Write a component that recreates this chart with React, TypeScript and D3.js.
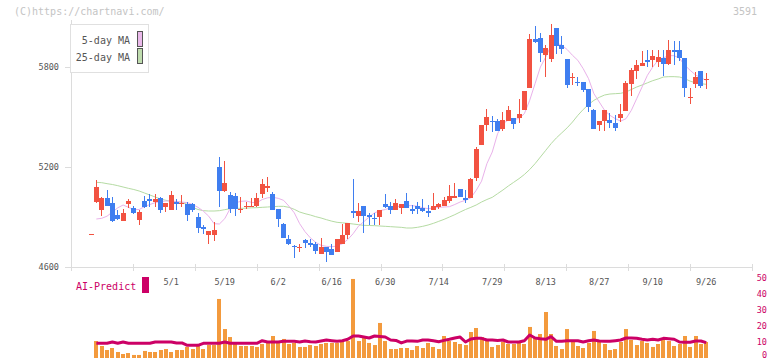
import React from "react";
import * as d3 from "d3";

// ---------- data ----------
const openP = [4800,4992,4944,5016,4984,4912,4878,4978,4952,4884,4996,5008,4990,5012,4962,4944,4990,4976,4976,4976,4900,4840,4794,4794,5200,5058,5032,5026,4940,4958,4962,4964,5040,5076,5038,4948,4860,4768,4728,4718,4762,4744,4738,4680,4718,4708,4692,4738,4792,4934,4908,4966,4914,4896,4902,4976,4968,4942,4952,4996,4946,4966,4956,4938,4942,4962,4968,4998,5012,5068,5012,5016,5134,5334,5450,5478,5474,5426,5478,5496,5496,5544,5676,5968,5974,5874,5850,6034,5934,5848,5734,5712,5708,5668,5542,5452,5476,5482,5464,5496,5538,5700,5778,5808,5842,5842,5828,5852,5816,5902,5902,5852,5614,5700,5776,5722];
const highP = [4800,5122,5020,5062,5018,4940,4946,5008,4966,4940,5028,5036,5038,5020,4986,5056,5010,5032,4988,4986,4922,4852,4816,4870,5260,5236,5048,5046,5022,4992,5012,5044,5126,5140,5052,4948,4864,4792,4732,4740,4768,4768,4748,4772,4718,4736,4768,4858,4862,5128,4982,4966,4922,4922,4940,5038,4992,5008,4976,5046,4972,4992,5008,4972,5046,4986,5018,5094,5106,5068,5062,5134,5322,5452,5548,5506,5490,5530,5564,5496,5608,5656,5998,6046,6002,5932,6058,6034,5986,5848,5762,5738,5708,5668,5548,5476,5542,5524,5512,5578,5718,5796,5842,5896,5900,5900,5902,5902,5962,5956,5956,5852,5672,5768,5776,5762];
const lowP = [4800,4985,4906,4968,4868,4882,4878,4956,4916,4852,4952,4962,4962,4926,4932,4944,4944,4962,4878,4932,4806,4796,4740,4758,4962,5052,4924,4904,4922,4948,4962,4960,5012,5052,4944,4842,4776,4732,4656,4692,4712,4720,4680,4680,4632,4672,4692,4738,4766,4892,4872,4806,4852,4852,4852,4952,4918,4942,4918,4952,4918,4918,4932,4898,4942,4946,4968,4982,5012,5022,4986,5016,5118,5334,5414,5412,5418,5418,5478,5426,5462,5544,5676,5942,5832,5742,5832,5880,5880,5674,5690,5686,5648,5532,5428,5418,5418,5436,5418,5472,5538,5628,5728,5808,5802,5802,5802,5748,5812,5812,5836,5622,5578,5672,5672,5668];
const closeP = [4800,5080,5016,4968,4876,4890,4924,4996,4926,4928,4960,4998,5008,4944,4982,5032,4980,4984,4914,4944,4836,4826,4816,4822,5058,5104,4950,4950,4948,4966,4966,5014,5098,5086,4944,4890,4776,4738,4718,4722,4744,4732,4698,4720,4688,4672,4768,4792,4862,4924,4936,4908,4898,4890,4940,4960,4944,4982,4976,4952,4936,4950,4938,4926,4966,4976,5002,5026,5026,5022,5002,5128,5310,5452,5500,5474,5418,5480,5540,5456,5518,5656,5968,5952,5882,5912,5992,5928,5910,5694,5738,5708,5662,5558,5428,5476,5542,5466,5436,5518,5704,5780,5812,5824,5832,5866,5858,5816,5902,5892,5852,5672,5618,5740,5686,5726];

// moving averages (start at index 1)
const ma5 = [NaN,4888,4892,4905,4930,4955,4972,4958,4945,4945,4962,4975,4986,4992,4996,4996,4993,4990,4986,4975,4958,4935,4905,4860,4858,4890,4950,4985,4994,4996,4988,4985,5005,5015,5018,5012,5000,4965,4925,4860,4812,4775,4748,4730,4724,4722,4725,4740,4765,4800,4845,4872,4900,4925,4938,4945,4955,4962,4966,4968,4968,4965,4955,4950,4954,4958,4960,4962,4975,4990,5000,5015,5060,5115,5220,5290,5400,5460,5482,5486,5490,5520,5600,5700,5800,5860,5930,5945,5930,5905,5870,5840,5790,5730,5640,5590,5540,5510,5490,5475,5490,5540,5610,5680,5750,5800,5840,5855,5868,5868,5852,5810,5780,5752,5735,5720];
const ma25 = [NaN,5108,5106,5100,5095,5088,5080,5072,5065,5056,5044,5032,5020,5008,5000,4994,4990,4988,4975,4958,4945,4938,4936,4936,4938,4944,4950,4952,4952,4953,4955,4956,4958,4960,4962,4964,4964,4958,4946,4930,4920,4912,4902,4894,4884,4875,4868,4865,4862,4858,4854,4850,4849,4848,4846,4844,4842,4840,4838,4834,4834,4838,4844,4852,4862,4874,4886,4900,4914,4930,4945,4958,4972,4990,5005,5018,5040,5062,5086,5108,5130,5155,5185,5220,5260,5300,5340,5375,5405,5435,5470,5510,5545,5575,5600,5618,5632,5638,5640,5642,5650,5665,5680,5692,5705,5718,5728,5740,5742,5742,5740,5730,5715,5705,5700,5696];

// lower panel
const volume = [0,10.6,7.5,5.0,6.25,3.75,2.5,3.1,1.9,1.9,4.4,3.75,3.75,5.0,5.6,3.75,5.0,5.0,6.9,5.6,7.5,5.6,8.1,8.1,36.9,18.1,13.1,8.75,7.5,7.5,7.5,6.9,8.75,9.4,13.75,9.4,11.9,8.75,9.4,6.9,6.9,8.1,7.5,8.75,9.4,9.4,9.4,10,10.6,49.4,10.6,12.5,9.4,8.1,21.9,10.6,5.6,5.6,6.25,6.25,5.0,7.5,6.25,9.4,6.9,5.6,13.75,10.6,10,8.75,8.1,16.25,18.75,13.1,11.9,6.9,8.1,10,8.75,8.75,10,8.75,19.4,12.5,15,28.75,15,7.5,5.6,18.1,10,7.5,6.25,9.4,16.9,10.6,8.75,5,5.6,10,18.1,11.25,8.1,10.6,9.4,6.9,8.75,11.25,10.6,7.5,8.75,13.75,6.9,13.75,8.75,10];
const aiPredict = [NaN,9.2,9.2,9.2,10,9.2,10,9.2,9.2,9.2,9.2,9.2,10,10,10,10,9.4,9.4,7.9,7.9,7.9,9.2,9.2,9.2,9.2,10,9.2,9.2,9.2,9.2,9.2,9.2,10.8,10,10,10,10.4,10.4,10.4,10,10.6,10.2,10,10.6,11.25,10.8,10.4,10.8,11.7,13.75,13.75,13.1,12.5,13.75,13.5,13.1,11.25,11.0,9.4,10.6,10.6,10.4,11.25,11.25,10.8,10.2,11.0,11.7,12.5,13.1,10,11.9,12.3,12.3,11.25,11.25,11.0,11.25,10,10,10,10.8,14.4,12.5,12.0,11.7,13.3,10.4,10.4,10.8,10.8,10.8,10,10.8,11.25,10.6,10.4,10.4,10.8,11.25,12.5,12.5,12.3,11.7,11.25,11.7,11.25,12.3,12.0,11.7,10,9.8,9.8,10.6,10.6,9.6];

const priceTicks = [5800, 5200, 4600];
const dateLabels = ["5/1", "5/19", "6/2", "6/16", "6/30", "7/14", "7/29", "8/13", "8/27", "9/10", "9/26"];
const dateIndex = [15, 25, 35, 45, 55, 65, 75, 85, 95, 105, 115];
const aiTicks = [0, 10, 20, 30, 40, 50];

// ---------- styles ----------
const RED = "#f25241";
const BLUE = "#3f7ef0";
const MONO = "'DejaVu Sans Mono', 'Liberation Mono', monospace";

export default function App() {
  const n = openP.length;
  const x = d3.scaleLinear().domain([0, n - 1]).range([91, 91 + 5.35 * (n - 1)]);
  const y = d3.scaleLinear().domain([4600, 5800]).range([267, 67]);
  const yv = d3.scaleLinear().domain([0, 50]).range([358, 278]);

  const idx = d3.range(n);
  const lineP = d3.line<number>()
    .defined((i) => !isNaN(ma5[i]))
    .x((i) => x(i))
    .y((i) => y(ma5[i]));
  const line25 = d3.line<number>()
    .defined((i) => !isNaN(ma25[i]))
    .x((i) => x(i))
    .y((i) => y(ma25[i]));
  const lineAI = d3.line<number>()
    .defined((i) => !isNaN(aiPredict[i]))
    .x((i) => x(i))
    .y((i) => yv(aiPredict[i]));

  const axisTicks = d3.range(12).map((k) => 71 + (681 / 11) * k);

  return (
    <svg width={772} height={361} style={{ position: "absolute", left: 0, top: 0, background: "#fff" }}
      fontFamily={MONO}>
      <text x={14} y={15} fontSize={10} fill="#c4c4c4">(C)https://chartnavi.com/</text>
      <text x={757} y={15} fontSize={10} fill="#c4c4c4" textAnchor="end">3591</text>

      {/* axes */}
      <line x1={71.5} y1={20} x2={71.5} y2={267} stroke="#dcdcdc" />
      <line x1={71} y1={267.5} x2={752} y2={267.5} stroke="#dcdcdc" />
      {axisTicks.map((t, k) => (
        <line key={k} x1={Math.round(t) + 0.5} x2={Math.round(t) + 0.5} y1={264} y2={271} stroke="#dcdcdc" />
      ))}
      {priceTicks.map((p) => (
        <g key={p}>
          <line x1={65} x2={72} y1={Math.round(y(p)) + 0.5} y2={Math.round(y(p)) + 0.5} stroke="#dcdcdc" />
          <text x={59} y={y(p)} dy="0.35em" fontSize={8.5} fill="#555" textAnchor="end">{p}</text>
        </g>
      ))}

      {/* moving averages */}
      <path d={line25(idx) || ""} fill="none" stroke="#b5dba3" strokeWidth={1} />
      <path d={lineP(idx) || ""} fill="none" stroke="#e9b2ea" strokeWidth={1} />

      {/* candles */}
      {idx.map((i) => {
        const o = openP[i], c = closeP[i], h = highP[i], l = lowP[i];
        const up = c >= o;
        const col = up ? RED : BLUE;
        const left = Math.round(x(i) - 2.5);
        const top = Math.round(y(Math.max(o, c)));
        const bot = Math.round(y(Math.min(o, c)));
        return (
          <g key={i}>
            <rect x={left + 2} y={Math.round(y(h))} width={1} height={Math.max(1, Math.round(y(l)) - Math.round(y(h)))} fill={col} />
            <rect x={left} y={top} width={5} height={Math.max(1, bot - top)} fill={col} />
          </g>
        );
      })}

      {/* legend */}
      <rect x={70.5} y={24.5} width={78} height={48} fill="#fff" stroke="#e0e0e0" />
      <text x={130} y={44} fontSize={10} fill="#555" textAnchor="end">5-day MA</text>
      <text x={130} y={61} fontSize={10} fill="#555" textAnchor="end">25-day MA</text>
      <rect x={137.5} y={31.5} width={5} height={15} fill="#eab9ea" stroke="#555" />
      <rect x={137.5} y={48.5} width={5} height={15} fill="#bfdcae" stroke="#555" />

      {/* lower panel */}
      <text x={76} y={290} fontSize={10} fill="#cc0066">AI-Predict</text>
      <rect x={142} y={277} width={7} height={16} fill="#cc0066" />
      {dateLabels.map((d, k) => (
        <text key={d} x={x(dateIndex[k])} y={285} fontSize={8.5} fill="#555" textAnchor="middle">{d}</text>
      ))}
      {aiTicks.map((t) => (
        <text key={t} x={767} y={Math.min(yv(t), 355.5)} dy="0.35em" fontSize={8.5} fill="#cc0066" textAnchor="end">{t}</text>
      ))}
      {idx.filter((i) => volume[i] > 0).map((i) => (
        <rect key={i} x={Math.round(x(i) - 2)} y={yv(volume[i])} width={4}
          height={358 - yv(volume[i])} fill="#f39a3d" />
      ))}
      <path d={lineAI(idx) || ""} fill="none" stroke="#cc0066" strokeWidth={3} strokeLinejoin="round" />
    </svg>
  );
}
